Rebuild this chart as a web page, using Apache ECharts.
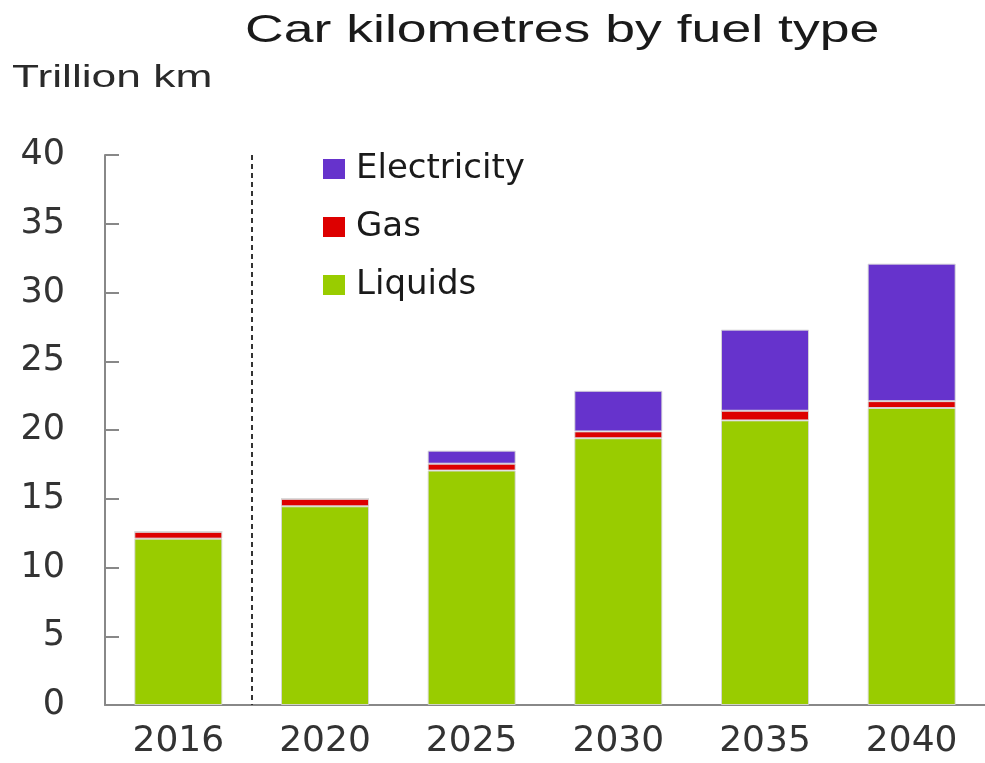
<!DOCTYPE html>
<html>
<head>
<meta charset="utf-8">
<script src="https://cdn.jsdelivr.net/npm/echarts@6/dist/echarts.min.js"></script>
<style>
html, body { margin: 0; padding: 0; background: #fff; }
#main { width: 985px; height: 763px; }
</style>
</head>
<body>
<div id="main"></div>
<script>
var years = ['2016', '2020', '2025', '2030', '2035', '2040'];
var liquids = [12.1, 14.45, 17.05, 19.4, 20.7, 21.6];
var gas = [0.5, 0.55, 0.5, 0.5, 0.7, 0.5];
var electricity = [0, 0, 0.95, 2.95, 5.9, 10.0];
var yTicks = [0, 5, 10, 15, 20, 25, 30, 35, 40];
// divider between the 2016 bar and the projections (in category units)
var dividerAt = 1;

var chart = echarts.init(document.getElementById('main'));

var FONT = 'DejaVu Sans, sans-serif';

function makeSeries(name, data, color) {
	return {
		name: name,
		type: 'bar',
		stack: 'km',
		barWidth: '60%',
		data: data,
		itemStyle: { color: color, borderColor: 'rgba(215,215,215,0.9)', borderWidth: 1 },
		emphasis: { disabled: true }
	};
}

var option = {
	animation: false,
	legend: {
		orient: 'vertical',
		left: 318,
		top: 146,
		itemWidth: 22,
		itemHeight: 20,
		itemGap: 22,
		icon: 'rect',
		data: ['Electricity', 'Gas', 'Liquids'],
		itemStyle: { borderWidth: 0 },
		textStyle: { fontFamily: FONT, fontSize: 34, lineHeight: 36, color: '#1a1a1a', padding: [0, 0, 0, 6] }
	},
	graphic: [{
		// title, stretched like the source picture
		type: 'text',
		x: 245,
		y: 13,
		scaleX: 1.41,
		style: { text: 'Car kilometres by fuel type', font: '38px "Liberation Sans", sans-serif', fill: '#1a1a1a' }
	}, {
		type: 'text',
		x: 12,
		y: 63,
		scaleX: 1.43,
		style: { text: 'Trillion km', font: '31px "Liberation Sans", sans-serif', fill: '#2a2a2a' }
	}],
	grid: { left: 105, top: 155, bottom: 58, width: 890 },
	xAxis: [{
		type: 'category',
		data: years,
		boundaryGap: true,
		axisLine: { lineStyle: { color: '#888', width: 2 } },
		axisTick: { show: false },
		axisLabel: { fontFamily: FONT, fontSize: 36, color: '#333', margin: 19 },
		splitLine: { show: false }
	}, {
		type: 'value',
		min: 0,
		max: years.length,
		show: false
	}],
	yAxis: {
		type: 'value',
		min: yTicks[0],
		max: yTicks[yTicks.length - 1],
		interval: 5,
		axisLine: { show: true, lineStyle: { color: '#888', width: 2 } },
		axisTick: { show: true, inside: true, length: 14, lineStyle: { color: '#888', width: 2 } },
		axisLabel: { fontFamily: FONT, fontSize: 35, color: '#333', margin: 40 },
		splitLine: { show: false }
	},
	series: [
		makeSeries('Liquids', liquids, '#99cc00'),
		makeSeries('Gas', gas, '#dd0000'),
		makeSeries('Electricity', electricity, '#6633cc'),
		{
			type: 'line',
			xAxisIndex: 1,
			data: [],
			silent: true,
			markLine: {
				symbol: 'none',
				silent: true,
				label: { show: false },
				lineStyle: { color: '#333', width: 2, type: [5, 4] },
				data: [[{ coord: [dividerAt, 40] }, { coord: [dividerAt, 0] }]]
			}
		}
	]
};

chart.setOption(option);
</script>
</body>
</html>
